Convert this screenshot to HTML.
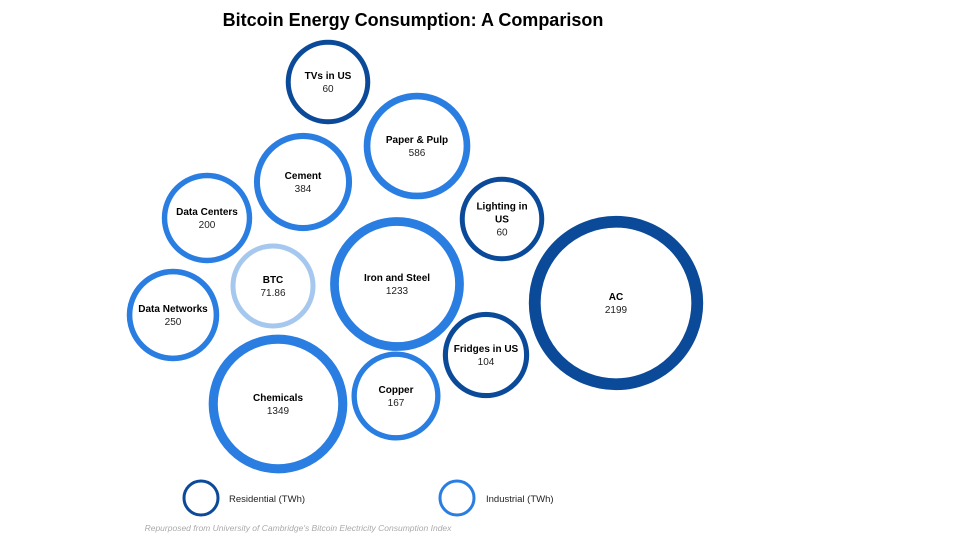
<!DOCTYPE html>
<html><head><meta charset="utf-8"><style>
body{margin:0;background:#fff;}
svg{display:block;font-family:"Liberation Sans",Arial,sans-serif;}
</style></head><body>
<svg id="chart" width="960" height="540">
<text x="413" y="26" text-anchor="middle" font-size="18" font-weight="bold" fill="#000">Bitcoin Energy Consumption: A Comparison</text>
<g id="bubbles"></g>
<g>
<circle cx="201" cy="498" r="17" fill="none" stroke="#0b4a99" stroke-width="3"/>
<text x="229" y="502" font-size="9.5" fill="#222">Residential (TWh)</text>
<circle cx="457" cy="498" r="17" fill="none" stroke="#2a7de1" stroke-width="3"/>
<text x="486" y="502" font-size="9.5" fill="#222">Industrial (TWh)</text>
</g>
<text x="298" y="531" text-anchor="middle" font-size="8.5" font-style="italic" fill="#aaa">Repurposed from University of Cambridge's Bitcoin Electricity Consumption Index</text>
</svg>
<script>
const categories=["TVs in US","Paper & Pulp","Cement","Data Centers","Lighting in US","BTC","Iron and Steel","AC","Data Networks","Fridges in US","Chemicals","Copper"];
const values=[60,586,384,200,60,71.86,1233,2199,250,104,1349,167];
const valueLabels=["60","586","384","200","60","71.86","1233","2199","250","104","1349","167"];
const groups=["res","ind","ind","ind","res","btc","ind","res","ind","res","ind","ind"];
// layout (bubble packing centers)
const centerX=[328,417,303,207,502,273,397,616,173,486,278,396];
const centerY=[82,146,182,218,219,286,284,303,315,355,404,396];
const colors={res:"#0b4a99",ind:"#2a7de1",btc:"#a6c8ef"};
function rScale(v){return 41+0.021*v;}
function wScale(v){return 4.8+0.0032*v;}
const g=document.getElementById('bubbles');
const NS="http://www.w3.org/2000/svg";
categories.forEach((c,i)=>{
  const v=values[i],R=rScale(v),w=wScale(v);
  const grp=document.createElementNS(NS,'g');
  
  
  const ci=document.createElementNS(NS,'circle');
  ci.setAttribute('cx',centerX[i]);ci.setAttribute('cy',centerY[i]);
  ci.setAttribute('r',R-w/2);ci.setAttribute('fill','#fff');
  ci.setAttribute('stroke',colors[groups[i]]);ci.setAttribute('stroke-width',w);
  
  
  grp.appendChild(ci);
  let lines=c==="Lighting in US"?["Lighting in","US"]:[c];
  const total=lines.length+1;const startY=centerY[i]-(total-1)*6.5+3.5;
  lines.forEach((l,k)=>{
    const t=document.createElementNS(NS,'text');
    t.setAttribute('x',centerX[i]);t.setAttribute('y',startY+k*13);
    t.setAttribute('text-anchor','middle');t.setAttribute('font-size','10');
    t.setAttribute('font-weight','bold');t.textContent=l;
    
    
    grp.appendChild(t);
  });
  const tv=document.createElementNS(NS,'text');
  tv.setAttribute('x',centerX[i]);tv.setAttribute('y',startY+lines.length*13);
  tv.setAttribute('text-anchor','middle');tv.setAttribute('font-size','10');
  tv.setAttribute('fill','#222');tv.textContent=valueLabels[i];
  
  
  grp.appendChild(tv);
  g.appendChild(grp);
});
</script>
</body></html>
